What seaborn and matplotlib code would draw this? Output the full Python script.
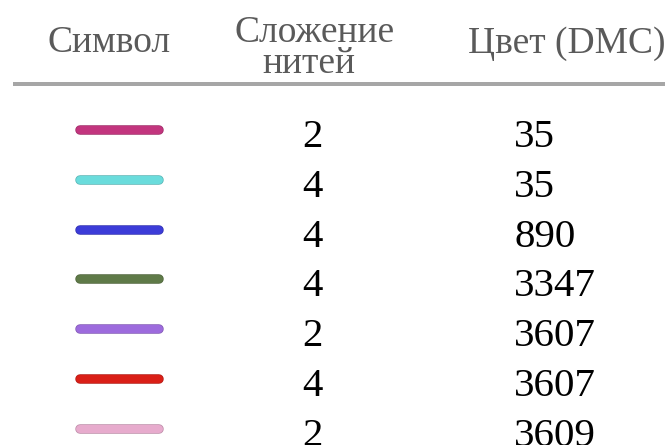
import matplotlib
matplotlib.use("Agg")
import matplotlib.pyplot as plt
import matplotlib.colors as mcolors
import matplotlib.patheffects as pe
import numpy as np
import seaborn as sns

# backstitch legend: symbol colour, strands, DMC colour number
headers = ["Символ", "Сложение\nнитей", "Цвет (DMC)"]
symbol_colors = ["#C2357E", "#6ADCDC", "#3C3CD8", "#5F7A48", "#9D6BDD", "#DA1F17", "#E7ABCD"]
strands = [2, 4, 4, 4, 2, 4, 2]
dmc = ["35", "35", "890", "3347", "3607", "3607", "3609"]

sns.set_theme(style="white")
plt.rcParams["font.family"] = ["Liberation Serif", "DejaVu Serif"]

W, H = 665, 445
fig = plt.figure(figsize=(W / 100, H / 100), dpi=100)
ax = fig.add_axes([0, 0, 1, 1])
ax.set_xlim(0, W)
ax.set_ylim(H, 0)
ax.axis("off")

px = 72 / 100  # points per pixel

# header
head_col = "#5a5a5a"
ax.text(109, 52, headers[0], ha="center", va="baseline", fontsize=27, color=head_col)
top, bottom = headers[1].split("\n")
ax.text(315, 42, top, ha="center", va="baseline", fontsize=27, color=head_col)
ax.text(309, 73, bottom, ha="center", va="baseline", fontsize=27, color=head_col)
ax.text(468, 53, headers[2], ha="left", va="baseline", fontsize=27, color=head_col)
ax.plot([13, W], [84, 84], color="#a6a6a6", lw=4 * px, solid_capstyle="butt")

# rows
row_y = 130 + 49.8 * np.arange(len(dmc))
for y, c, s, d in zip(row_y, symbol_colors, strands, dmc):
    edge = np.array(mcolors.to_rgb(c)) * 0.82
    ax.plot([80, 159], [y, y], color=c, lw=8 * px, solid_capstyle="round",
            path_effects=[pe.Stroke(linewidth=9.5 * px, foreground=edge), pe.Normal()])
    ax.text(312, y + 17, str(s), ha="center", va="baseline", fontsize=29.5, color="black")
    ax.text(514, y + 17, d, ha="left", va="baseline", fontsize=29.5, color="black")

fig.savefig("out.png", dpi=100)
